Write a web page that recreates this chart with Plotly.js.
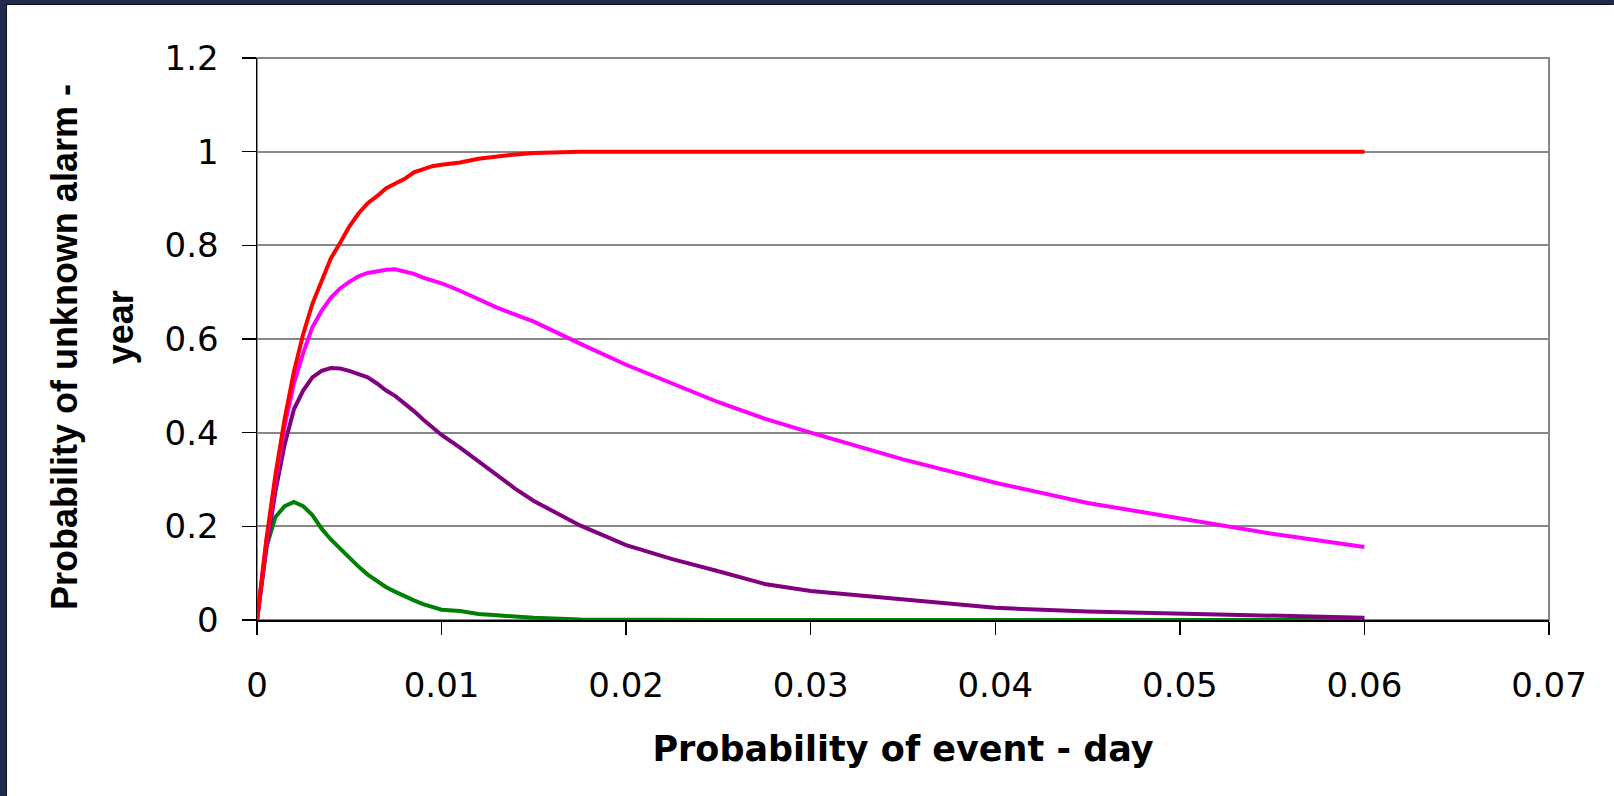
<!DOCTYPE html>
<html>
<head>
<meta charset="utf-8">
<script src="https://cdn.plot.ly/plotly-3.0.1.min.js"></script>
<style>
  html, body { margin: 0; padding: 0; width: 1614px; height: 796px; background: #1f2a4e; overflow: hidden; }
  #chart { position: absolute; left: 7px; top: 5px; width: 1607px; height: 791px; background: #ffffff; box-shadow: -1px -1px 0 #0b1020; }
</style>
</head>
<body>
<div id="chart"></div>
<script>
// Probability of event per day (x)
const eventProbDay = [0, 0.0005, 0.001, 0.0015, 0.002, 0.0025, 0.003, 0.0035, 0.004, 0.0045, 0.005, 0.0055, 0.006, 0.0065, 0.007, 0.0075, 0.008, 0.0085, 0.009, 0.0095, 0.01, 0.011, 0.012, 0.013, 0.014, 0.015, 0.0175, 0.02, 0.0225, 0.025, 0.0275, 0.03, 0.035, 0.04, 0.045, 0.05, 0.055, 0.06];

// Probability of unknown alarm per year, four series
const seriesRed = [0, 0.17, 0.31, 0.43, 0.53, 0.61, 0.675, 0.725, 0.772, 0.805, 0.84, 0.868, 0.89, 0.905, 0.922, 0.932, 0.942, 0.956, 0.963, 0.969, 0.972, 0.977, 0.985, 0.99, 0.994, 0.997, 1, 1, 1, 1, 1, 1, 1, 1, 1, 1, 1, 1];
const seriesMagenta = [0, 0.165, 0.30, 0.415, 0.505, 0.57, 0.625, 0.66, 0.688, 0.708, 0.722, 0.734, 0.741, 0.745, 0.748, 0.749, 0.745, 0.739, 0.731, 0.725, 0.719, 0.703, 0.685, 0.667, 0.652, 0.637, 0.59, 0.545, 0.505, 0.465, 0.43, 0.40, 0.343, 0.293, 0.25, 0.216, 0.184, 0.156];
const seriesPurple = [0, 0.15, 0.275, 0.375, 0.45, 0.49, 0.518, 0.532, 0.538, 0.537, 0.532, 0.525, 0.518, 0.505, 0.49, 0.478, 0.463, 0.446, 0.428, 0.411, 0.395, 0.368, 0.338, 0.31, 0.28, 0.254, 0.202, 0.16, 0.13, 0.104, 0.077, 0.062, 0.044, 0.026, 0.018, 0.013, 0.009, 0.005];
const seriesGreen = [0, 0.155, 0.22, 0.243, 0.252, 0.243, 0.224, 0.195, 0.172, 0.152, 0.133, 0.114, 0.097, 0.083, 0.07, 0.06, 0.05, 0.042, 0.034, 0.028, 0.022, 0.019, 0.013, 0.01, 0.007, 0.005, 0.001, 0, 0, 0, 0, 0, 0, 0, 0, 0, 0, 0];

const xTickVals = [0, 0.01, 0.02, 0.03, 0.04, 0.05, 0.06, 0.07];
const xTickText = ['0', '0.01', '0.02', '0.03', '0.04', '0.05', '0.06', '0.07'];
const yTickVals = [0, 0.2, 0.4, 0.6, 0.8, 1, 1.2];
const yTickText = ['0', '0.2', '0.4', '0.6', '0.8', '1', '1.2'];

const xTitle = 'Probability of event - day';
const yTitleLine1 = 'Probability of unknown alarm -';
const yTitleLine2 = 'year';

const mk = (y, color) => ({
  x: eventProbDay, y: y, type: 'scatter', mode: 'lines',
  line: { color: color, width: 4 }, hoverinfo: 'skip', showlegend: false
});

const data = [
  mk(seriesGreen, '#008000'),
  mk(seriesPurple, '#800080'),
  mk(seriesMagenta, '#ff00ff'),
  mk(seriesRed, '#ff0000')
];

const tickFont = { family: 'DejaVu Sans, Arial, sans-serif', size: 34, color: '#000000' };

const layout = {
  width: 1607, height: 791,
  margin: { l: 250, r: 65, t: 53, b: 176, pad: 0 },
  paper_bgcolor: '#ffffff', plot_bgcolor: '#ffffff',
  showlegend: false,
  xaxis: {
    range: [0, 0.07], tickvals: xTickVals, ticktext: xTickText,
    showgrid: false, zeroline: false,
    showline: true, linecolor: '#000000', linewidth: 1.5,
    ticks: 'outside', ticklen: 13, tickwidth: 1.5, tickcolor: '#000000',
    tickfont: tickFont, ticklabelstandoff: 22,
    title: { text: xTitle, font: { family: 'DejaVu Sans, Arial, sans-serif', size: 35, color: '#000000', weight: 'bold' }, standoff: 32 },
    automargin: false, fixedrange: true
  },
  yaxis: {
    range: [0, 1.2], tickvals: yTickVals, ticktext: yTickText,
    showgrid: true, gridcolor: '#868686', gridwidth: 2, zeroline: false,
    showline: true, linecolor: '#000000', linewidth: 1.5,
    ticks: 'outside', ticklen: 14, tickwidth: 1.5, tickcolor: '#000000',
    tickfont: tickFont, ticklabelstandoff: 16,
    automargin: false, fixedrange: true
  },
  shapes: [
    { type: 'rect', xref: 'paper', yref: 'paper', x0: 0, x1: 1, y0: 0, y1: 1,
      line: { color: '#868686', width: 2 }, layer: 'below' }
  ],
  annotations: [
    { text: yTitleLine1, xref: 'paper', yref: 'paper', x: -0.1494, y: 0.4855,
      xanchor: 'center', yanchor: 'middle', textangle: -90, showarrow: false,
      font: { family: 'Liberation Sans, Arial, sans-serif', size: 36, color: '#000000', weight: 'bold' } },
    { text: yTitleLine2, xref: 'paper', yref: 'paper', x: -0.106, y: 0.521,
      xanchor: 'center', yanchor: 'middle', textangle: -90, showarrow: false,
      font: { family: 'Liberation Sans, Arial, sans-serif', size: 36, color: '#000000', weight: 'bold' } }
  ]
};

Plotly.newPlot('chart', data, layout, { displayModeBar: false, staticPlot: true });
</script>
</body>
</html>
